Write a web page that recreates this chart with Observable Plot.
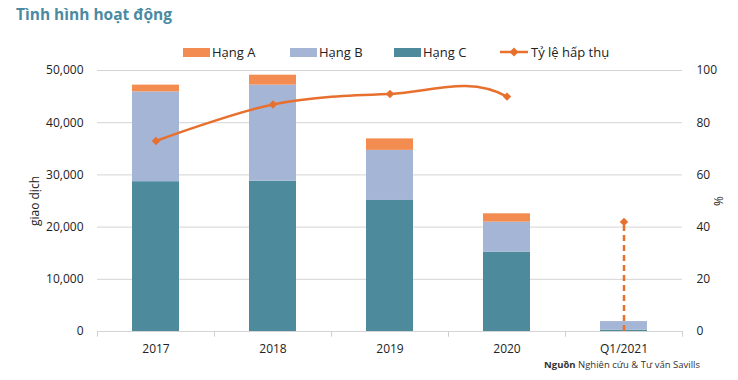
<!DOCTYPE html>
<html><head><meta charset="utf-8">
<script src="https://cdn.jsdelivr.net/npm/d3@7"></script>
<script src="https://cdn.jsdelivr.net/npm/@observablehq/plot@0.6"></script>
<style>
body{margin:0;background:#fff;font-family:"Open Sans",sans-serif;color:#222}
#wrap{position:relative;width:738px;height:380px;overflow:hidden}
#chart{position:absolute;left:0;top:0}
#title{position:absolute;left:16px;top:3px;font-size:15.5px;font-weight:bold;color:#4a8aa2}
.lg{position:absolute;top:43px;font-size:13px;line-height:18px;white-space:nowrap;display:flex;align-items:center}
.sw{display:inline-block;width:27px;height:9px;margin-right:2px}
#source{position:absolute;right:38px;top:358px;font-size:9.5px;color:#333;white-space:nowrap}
</style></head>
<body>
<div id="wrap">
  <div id="chart"></div>
  <div id="title">Tình hình hoạt động</div>
  <div class="lg" style="left:183px"><span class="sw" style="background:#f28c50"></span>Hạng A</div>
  <div class="lg" style="left:290px"><span class="sw" style="background:#a5b5d6"></span>Hạng B</div>
  <div class="lg" style="left:394px"><span class="sw" style="background:#4d8b9c"></span>Hạng C</div>
  <div class="lg" style="left:500px"><svg width="29" height="12" style="margin-right:2px"><line x1="0" y1="6" x2="28" y2="6" stroke="#e8702e" stroke-width="2.5"/><path d="M14,1.5 L18.5,6 L14,10.5 L9.5,6Z" fill="#e8702e"/></svg>Tỷ lệ hấp thụ</div>
  <div id="source"><b>Nguồn</b> Nghiên cứu &amp; Tư vấn Savills</div>
</div>
<script>
const categories = ["2017", "2018", "2019", "2020", "Q1/2021"];
const hangC = [28700, 28800, 25100, 15200, 250];
const hangB = [17200, 18400, 9600, 5750, 1650];
const hangA = [1300, 1900, 2200, 1600, 0];
const absorption = [73, 87, 91, 90, 42];
const leftTicks = [0, 10000, 20000, 30000, 40000, 50000];

const ratio = 500; // 100% maps to 50,000
const seriesNames = ["Hạng C", "Hạng B", "Hạng A"];
const seriesVals = [hangC, hangB, hangA];
const colors = {"Hạng A": "#f28c50", "Hạng B": "#a5b5d6", "Hạng C": "#4d8b9c"};
const bars = [];
categories.forEach((c, i) => seriesNames.forEach((s, j) => bars.push({cat: c, series: s, value: seriesVals[j][i]})));
const lineData = absorption.map((v, i) => ({cat: categories[i], v: v * ratio}));
const q1 = lineData.slice(-1);
const orange = "#e8702e";

// smooth curve through all points, but the last segment is not drawn (shown dashed instead)
function smoothSkipLast(context) {
  let count = 0, total = 0;
  const proxy = {
    moveTo: (x, y) => context.moveTo(x, y),
    lineTo: (x, y) => context.lineTo(x, y),
    bezierCurveTo: (...a) => { if (count++ < total - 2) context.bezierCurveTo(...a); },
    closePath: () => context.closePath()
  };
  const inner = d3.curveCardinal.tension(0)(proxy);
  return {
    areaStart() { inner.areaStart(); },
    areaEnd() { inner.areaEnd(); },
    lineStart() { count = 0; total = 0; inner.lineStart(); },
    lineEnd() { inner.lineEnd(); },
    point(x, y) { total++; inner.point(x, y); }
  };
}
// total is counted as points arrive; bezier for segment k is emitted on point k+2 or at lineEnd,
// so we defer by buffering points
function smoothCurve(context) {
  let pts = [];
  return {
    areaStart() {}, areaEnd() {},
    lineStart() { pts = []; },
    point(x, y) { pts.push([x, y]); },
    lineEnd() {
      let count = 0;
      const keep = pts.length - 2;
      const proxy = {
        moveTo: (x, y) => context.moveTo(x, y),
        lineTo: (x, y) => context.lineTo(x, y),
        bezierCurveTo: (...a) => { if (count++ < keep) context.bezierCurveTo(...a); },
        closePath: () => {}
      };
      const c = d3.curveCardinal.tension(0)(proxy);
      c.lineStart(); pts.forEach(p => c.point(p[0], p[1])); c.lineEnd();
    }
  };
}

const chart = Plot.plot({
  width: 738, height: 380,
  marginTop: 70, marginBottom: 49, marginLeft: 97, marginRight: 56,
  style: {fontFamily: "Open Sans, sans-serif", fontSize: "12px", color: "#222", background: "#fff"},
  x: {domain: categories, paddingInner: 0.6, paddingOuter: 0.3},
  y: {domain: [0, 50000]},
  color: {domain: Object.keys(colors), range: Object.values(colors)},
  marks: [
    Plot.gridY(leftTicks, {stroke: "#d4d4d4", strokeOpacity: 1}),
    Plot.ruleX(categories, {x: d => d, y1: 0, y2: -1100, dx: -58.5, stroke: "#cfcfcf"}),
    Plot.ruleX([categories[4]], {x: d => d, y1: 0, y2: -1100, dx: 58.5, stroke: "#cfcfcf"}),
    Plot.barY(bars, {x: "cat", y: "value", fill: "series"}),
    Plot.line(lineData, {x: "cat", y: "v", stroke: orange, strokeWidth: 2.5, curve: smoothCurve}),
    Plot.ruleX(q1, {x: "cat", y1: 0, y2: "v", stroke: orange, strokeWidth: 2.5, strokeDasharray: "6,4"}),
    Plot.dot(lineData, {x: "cat", y: "v", symbol: "diamond2", r: 3.8, fill: orange}),
    Plot.axisY(leftTicks, {tickSize: 0, tickPadding: 14, tickFormat: d3.format(","), label: "giao dịch", labelAnchor: "center", labelArrow: "none", labelOffset: 67, fill: "#222"}),
    Plot.axisY(leftTicks, {anchor: "right", tickSize: 0, tickPadding: 14, tickFormat: d => d / ratio, label: "%", labelAnchor: "center", labelArrow: "none", labelOffset: 40, fill: "#222"}),
    Plot.axisX({tickSize: 0, tickPadding: 13, label: null, fill: "#222"})
  ]
});
document.getElementById("chart").appendChild(chart);
</script>
</body></html>
